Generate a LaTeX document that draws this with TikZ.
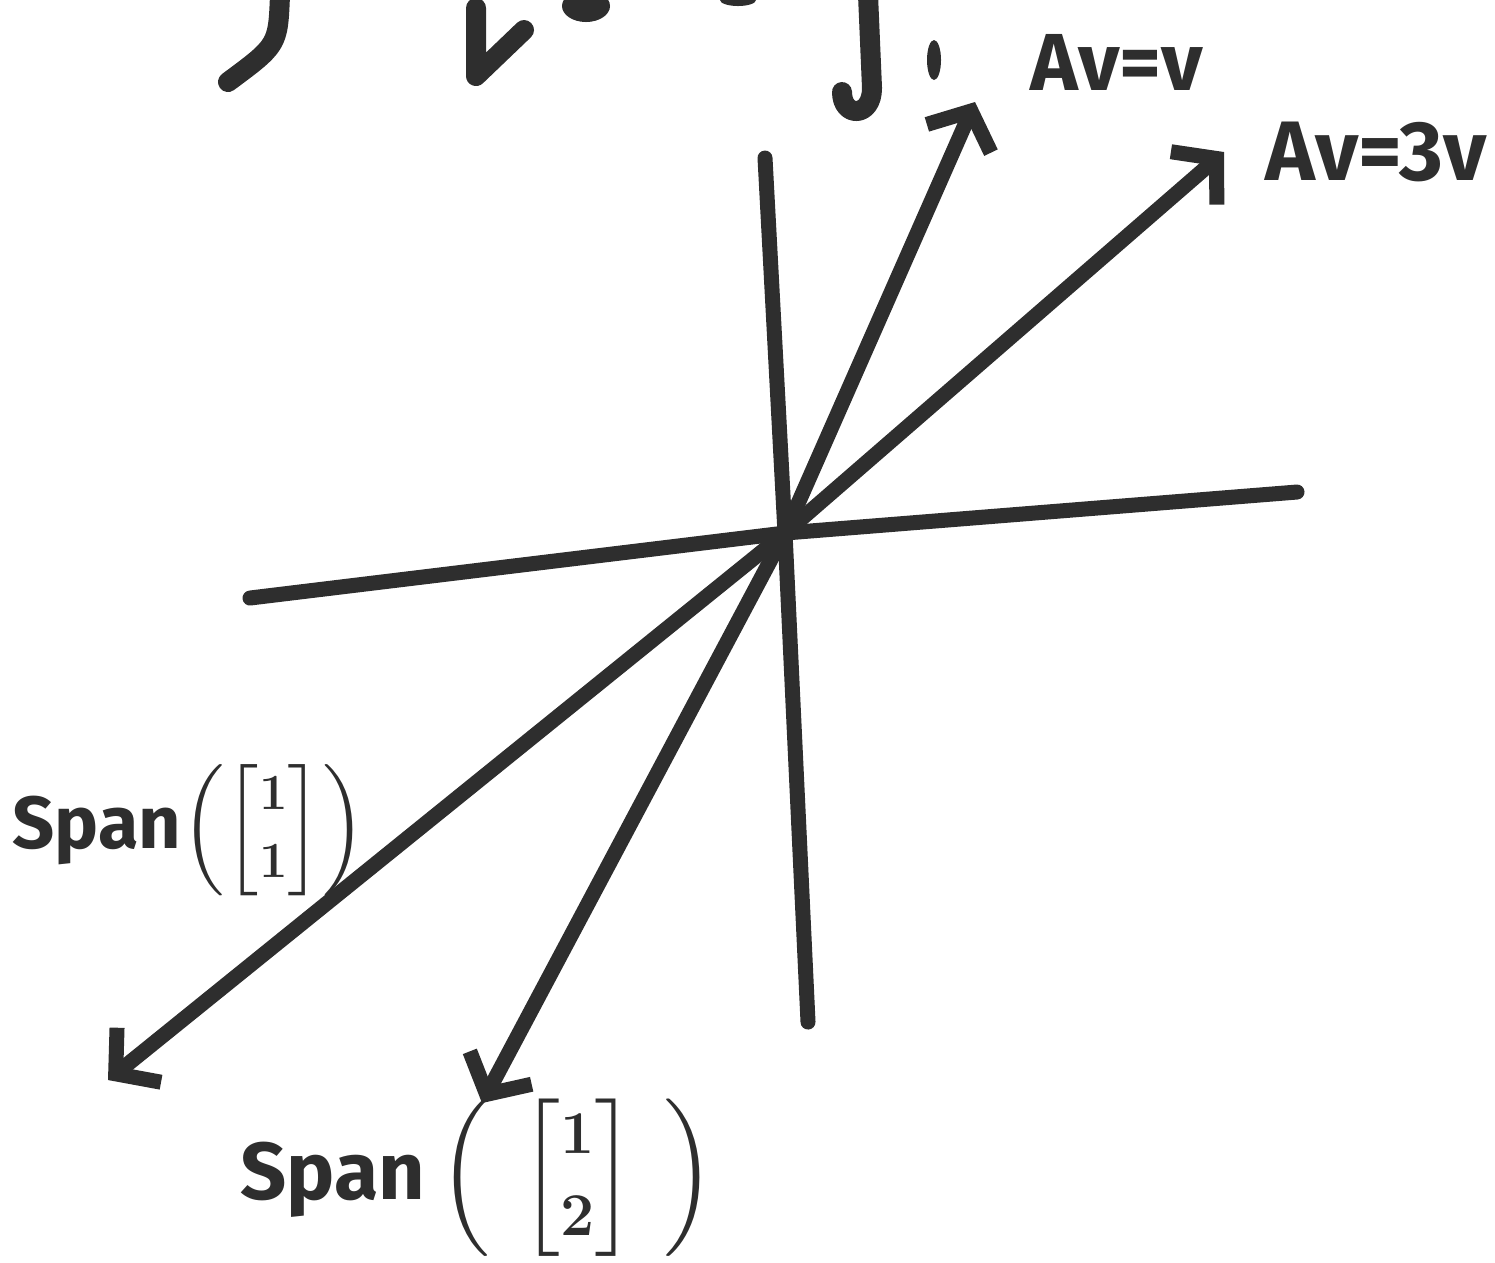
\documentclass[tikz,border=0pt]{standalone}
\usepackage{fontspec}
\usepackage{amsmath}
\setmainfont{Fira Sans}
\usetikzlibrary{arrows.meta}
\definecolor{cpen}{HTML}{2E2E2E}
\tikzset{
  every picture/.style={x=0.01cm, y=-0.01cm},
  pen/.style={draw=cpen, line width=0.15cm, line cap=round, line join=round},
  vec/.style={pen, -{Straight Barb[length=3mm, width=7mm]}},
  scrap/.style={pen, line width=0.2cm},
  hand/.style={font=\fontsize{23}{26}\selectfont\bfseries\boldmath, text=cpen, inner sep=0pt},
}
\newcommand{\colvec}[3]{{\renewcommand{\arraystretch}{#3}%
  \left[\begin{array}{@{}c@{}}\scriptstyle #1\\\scriptstyle #2\end{array}\right]}}
\begin{document}
\begin{tikzpicture}
  \useasboundingbox (0,0) rectangle (1495,1262);
  % writing cut off at the top edge
  \draw[scrap] (280,-5) .. controls (278,45) .. (228,82);
  \draw[scrap] (476,8) -- (476,76) -- (524,30);
  \fill[cpen] (586,6) ellipse (24 and 16);
  \fill[cpen] (738,0) ellipse (18 and 6);
  \draw[scrap] (868,-5) -- (872,88) .. controls (872,118) and (842,118) .. (842,92);
  \fill[cpen] (934,60) ellipse (7 and 20);
  % axes
  \coordinate (o) at (785,533);
  \coordinate (yt) at (765,158);
  \coordinate (yb) at (808,1022);
  \coordinate (xl) at (250,598);
  \coordinate (xr) at (1297,492);
  \draw[pen] (yt) -- (o) -- (yb);
  \draw[pen] (xl) -- (o) -- (xr);
  % eigenvector lines
  \coordinate (v1) at (975,102);
  \coordinate (w1) at (482,1103);
  \coordinate (v3) at (1224,152);
  \coordinate (w3) at (108,1080);
  \draw[vec] (o) -- (v1);
  \draw[vec] (o) -- (w1);
  \draw[vec] (o) -- (v3);
  \draw[vec] (o) -- (w3);
  % labels
  \node[hand] (l1) at (1117,62) {Av=v};
  \node[hand, font=\fontsize{24}{28}\selectfont\bfseries] (l3) at (1376,152) {Av=3v};
  \node[hand, anchor=west, font=\fontsize{21}{24}\selectfont\bfseries\boldmath] (s1) at (12,830) {Span$\left(\colvec{1}{1}{0.8}\right)$};
  \node[hand, anchor=west] (s2) at (240,1178) {Span\,$\left(\;\colvec{1}{2}{0.9}\;\right)$};
\end{tikzpicture}
\end{document}
